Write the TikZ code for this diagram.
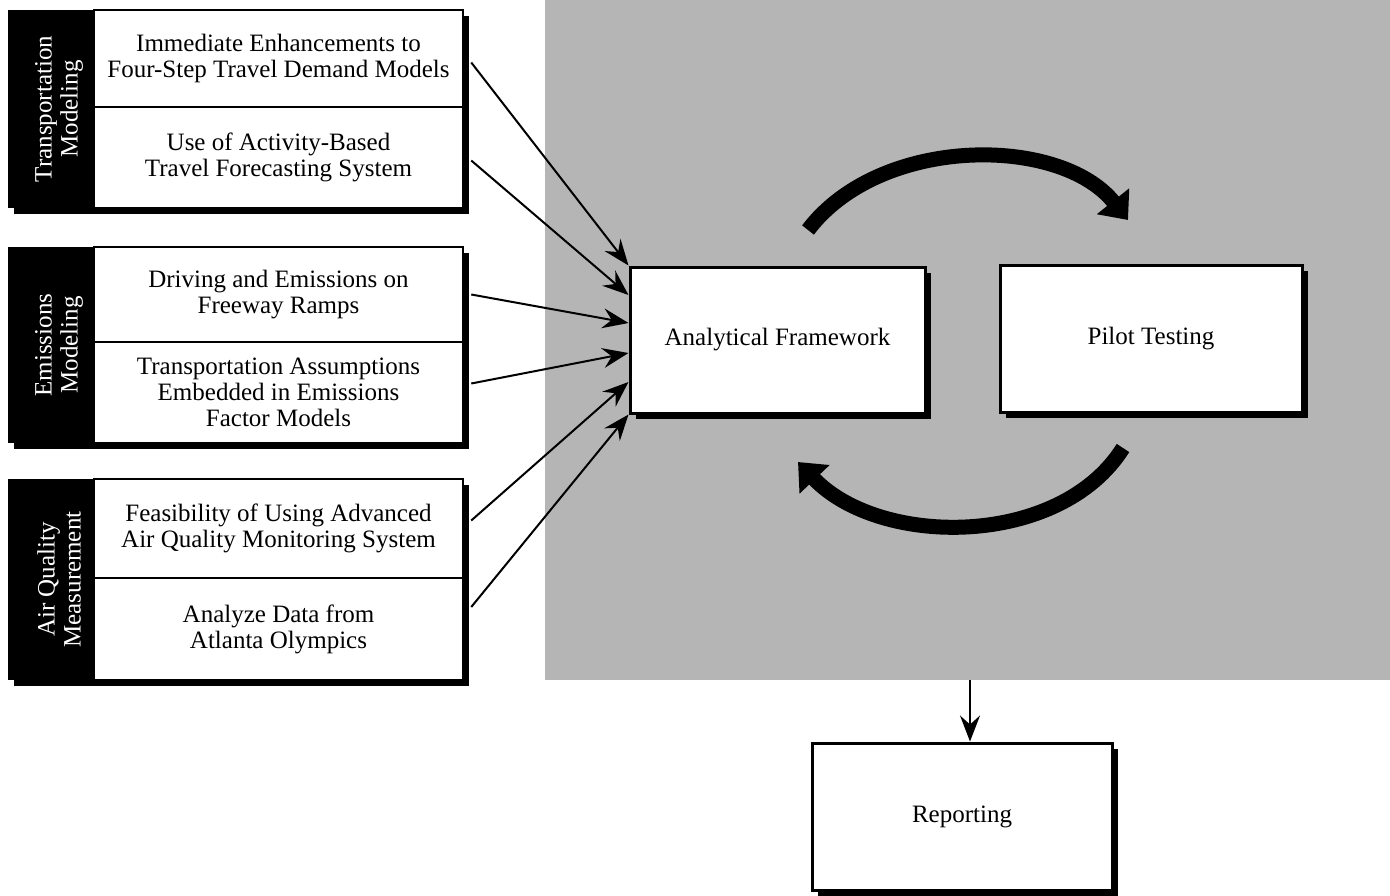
\documentclass[tikz,border=0pt]{standalone}
\usepackage{fontspec}
\setmainfont{Liberation Serif}
\usetikzlibrary{arrows.meta,shadows}

\tikzset{
  shade box/.style={drop shadow={shadow xshift=6pt,shadow yshift=-6pt,opacity=1,fill=black}},
  topic/.style={draw,line width=2.5pt,fill=white,minimum width=369pt,align=center,inner sep=0pt,shade box},
  tag/.style={fill=black,minimum width=86pt,inner sep=0pt,shade box},
  tag text/.style={text=white,rotate=90,align=center,inner sep=0pt},
  stage/.style={draw,line width=3pt,fill=white,minimum width=295pt,minimum height=146pt,shade box},
  feed/.style={->,line width=2pt},
  loop/.style={line width=15pt,-{Triangle[length=24pt,width=40pt]}}
}

\begin{document}
\begin{tikzpicture}[x=1pt,y=-1pt,>={Stealth[length=26pt,width=20pt,inset=9pt]},font=\fontsize{25}{26}\selectfont]
    \useasboundingbox (0,0) rectangle (1390,895);
    \node[fill=black!29,minimum width=845pt,minimum height=680pt,inner sep=0pt] (field) at (967.5,340) {};

    % transportation group
    \node[tag,minimum height=198pt] (tt) at (51,109) {};
    \node[tag text] at ([xshift=8pt]tt.center) {Transportation\\Modeling};
    \node[topic,minimum height=97pt] (t1) at (278.5,58.5) {Immediate Enhancements to\\Four-Step Travel Demand Models};
    \node[topic,minimum height=101pt] (t2) at (278.5,157.5) {Use of Activity-Based\\Travel Forecasting System};

    % emissions group
    \node[tag,minimum height=196pt] (et) at (51,345) {};
    \node[tag text] at ([xshift=8pt]et.center) {Emissions\\Modeling};
    \node[topic,minimum height=95pt] (e1) at (278.5,294.5) {Driving and Emissions on\\Freeway Ramps};
    \node[topic,minimum height=101pt] (e2) at (278.5,392.5) {Transportation Assumptions\\Embedded in Emissions\\Factor Models};

    % air quality group
    \node[tag,minimum height=201pt] (at) at (51,579.5) {};
    \node[tag text] at ([xshift=8pt]at.center) {Air Quality\\Measurement};
    \node[topic,minimum height=99pt] (a1) at (278.5,528.5) {Feasibility of Using Advanced\\Air Quality Monitoring System};
    \node[topic,minimum height=102pt] (a2) at (278.5,629) {Analyze Data from\\Atlanta Olympics};

    % main stages
    \node[stage] (af) at (777.5,340) {Analytical Framework};
    \node[stage,minimum width=302pt,minimum height=147pt] (pt) at (1151,338.5) {Pilot Testing};
    \node[stage,minimum width=300pt,minimum height=147pt] (rep) at (962,816.5) {Reporting};

    \draw[feed] ([shift={(7pt,-4pt)}]t1.east) -- (af.north west);
    \draw[feed] ([shift={(7pt,-3pt)}]t2.east) -- ([yshift=45pt]af.west);
    \draw[feed] ([xshift=7pt]e1.east) -- ([yshift=17pt]af.west);
    \draw[feed] ([shift={(7pt,9pt)}]e2.east) -- ([yshift=-13pt]af.west);
    \draw[feed] ([shift={(7pt,8pt)}]a1.east) -- ([yshift=-42pt]af.west);
    \draw[feed] ([shift={(7pt,22pt)}]a2.east) -- (af.south west);

    \coordinate (go) at (808,230);
    \coordinate (come) at (1123,448);
    \draw[loop] (go) .. controls (880,135) and (1060,135) .. (1128,220);
    \draw[loop] (come) .. controls (1060,548) and (880,548) .. (798,462);

    \coordinate (drop) at (970,680);
    \draw[feed] (drop) -- (drop |- rep.north);
\end{tikzpicture}
\end{document}
